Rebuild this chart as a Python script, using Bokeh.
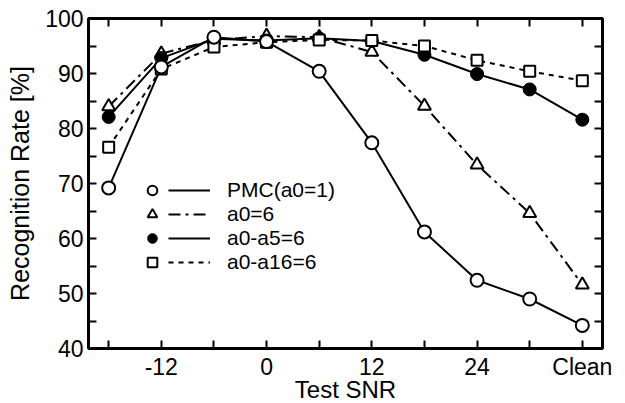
from bokeh.plotting import figure
from bokeh.models import Range1d, FixedTicker, LinearAxis, Legend, LegendItem
from bokeh.embed import file_html
from bokeh.resources import INLINE

# ---- data ----
snr = [-18, -12, -6, 0, 6, 12, 18, 24, 30, 36]
x_tick_labels = {-18: "", -12: "-12", -6: "", 0: "0", 6: "", 12: "12",
                 18: "", 24: "24", 30: "", 36: "Clean"}
y_ticks = [40, 45, 50, 55, 60, 65, 70, 75, 80, 85, 90, 95, 100]

pmc = [69.2, 91.2, 96.6, 95.8, 90.4, 77.4, 61.2, 52.4, 49.0, 44.2]
a0_6 = [84.0, 93.6, 96.1, 96.8, 96.6, 93.9, 84.1, 73.4, 64.6, 51.6]
a0_a5 = [82.1, 92.8, 96.3, 96.0, 96.4, 95.9, 93.4, 89.9, 87.1, 81.6]
a0_a16 = [76.6, 90.8, 94.8, 95.7, 96.1, 96.0, 95.0, 92.4, 90.4, 88.7]

labels = ["PMC(a0=1)", "a0=6", "a0-a5=6", "a0-a16=6"]

FONT = "Liberation Sans"

p = figure(frame_width=514, frame_height=330, output_backend="svg",
           toolbar_location=None,
           x_range=Range1d(-20.3, 38.3), y_range=Range1d(40, 100),
           min_border_left=88, min_border_right=23, min_border_top=18,
           min_border_bottom=55)
p.grid.visible = False
p.outline_line_color = "black"
p.outline_line_width = 3
p.background_fill_color = "white"
p.border_fill_color = "white"

xa = p.xaxis[0]
xa.ticker = FixedTicker(ticks=snr)
xa.major_label_overrides = {k: v for k, v in x_tick_labels.items()}
ya = p.yaxis[0]
ya.ticker = FixedTicker(ticks=y_ticks)
ya.major_label_overrides = {t: (str(t) if t % 10 == 0 else "") for t in y_ticks}

xa.axis_label = "Test SNR"
ya.axis_label = "Recognition Rate [%]"

top = LinearAxis(ticker=FixedTicker(ticks=snr),
                 major_label_overrides={k: "" for k in snr})
right = LinearAxis(ticker=FixedTicker(ticks=y_ticks),
                   major_label_overrides={t: "" for t in y_ticks})
p.add_layout(top, "above")
p.add_layout(right, "right")

for ax in [xa, ya, top, right]:
    ax.axis_line_color = None
    ax.major_tick_in = 8
    ax.major_tick_out = 0
    ax.minor_tick_in = 0
    ax.minor_tick_out = 0
    ax.major_tick_line_width = 2
    ax.major_tick_line_color = "black"
    ax.major_label_text_font = FONT
    ax.major_label_text_font_size = "23px"
    ax.major_label_text_color = "black"
    ax.axis_label_text_font = FONT
    ax.axis_label_text_font_style = "normal"
    ax.axis_label_text_color = "black"

for ax in [top, right]:
    ax.major_label_standoff = 0
    ax.major_label_text_font_size = "1px"

xa.major_label_standoff = 5
ya.major_label_standoff = 5
xa.axis_label_text_font_size = "24px"
ya.axis_label_text_font_size = "25px"
xa.axis_label_standoff = -7
ya.axis_label_standoff = 8

# ---- series ----
l1 = p.line(snr, pmc, line_color="black", line_width=2)
l2 = p.line(snr, a0_6, line_color="black", line_width=2, line_dash="12 5 3 5")
l3 = p.line(snr, a0_a5, line_color="black", line_width=2)
l4 = p.line(snr, a0_a16, line_color="black", line_width=2, line_dash="5 5")

s2 = p.scatter(snr, a0_6, marker="triangle", size=13, fill_color="white",
               line_color="black", line_width=2)
s3 = p.scatter(snr, a0_a5, marker="circle", size=13, fill_color="black",
               line_color="black", line_width=1)
s4 = p.scatter(snr, a0_a16, marker="square", size=11, fill_color="white",
               line_color="black", line_width=2)
s1 = p.scatter(snr, pmc, marker="circle", size=13, fill_color="white",
               line_color="black", line_width=2)

# ---- legend: markers column + lines/labels column ----
leg_m = Legend(items=[LegendItem(label="", renderers=[r]) for r in [s1, s2, s3, s4]],
               location=(52, 74), glyph_width=24, glyph_height=24, spacing=0,
               padding=0, margin=0, label_width=0, label_standoff=0,
               label_height=0, background_fill_alpha=0, border_line_color=None,
               label_text_font_size="1px")
leg_l = Legend(items=[LegendItem(label=lab, renderers=[r])
                      for lab, r in zip(labels, [l1, l2, l3, l4])],
               location=(80, 74), glyph_width=42, glyph_height=24, spacing=0,
               padding=0, margin=0, label_standoff=17, label_height=24,
               background_fill_alpha=0, border_line_color=None,
               label_text_font=FONT, label_text_font_size="21px",
               label_text_color="black")
p.add_layout(leg_m)
p.add_layout(leg_l)

open("out.html", "w").write(file_html(p, INLINE))
